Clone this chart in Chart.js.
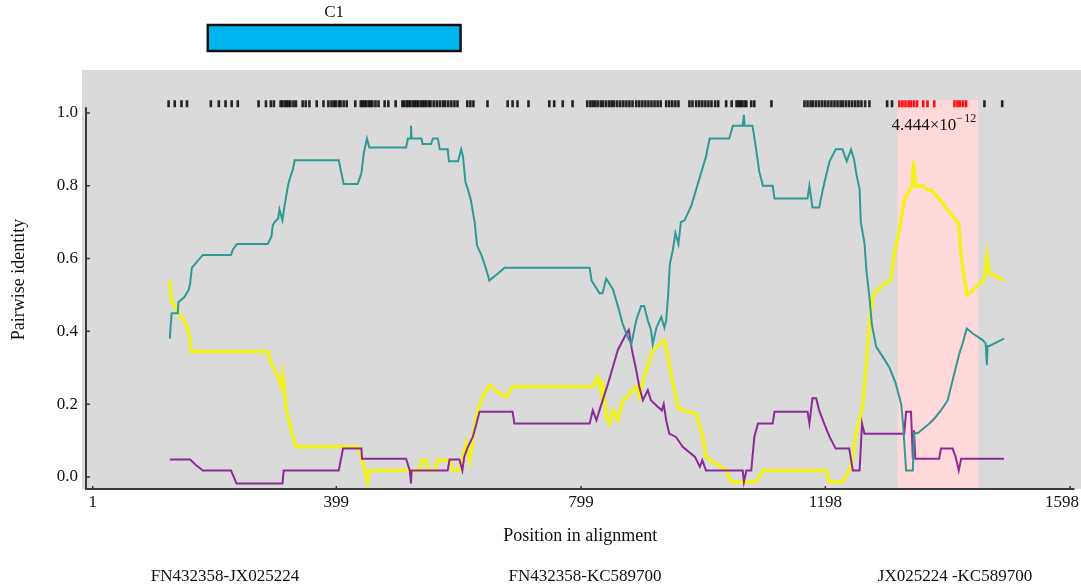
<!DOCTYPE html>
<html><head><meta charset="utf-8">
<script src="https://cdn.jsdelivr.net/npm/chart.js@4.4.1/dist/chart.umd.min.js"></script>
<style>html,body{margin:0;padding:0;background:#fff}</style>
</head><body>
<canvas id="c" width="1081" height="588"></canvas>
<script>
// ---------- data ----------
const xTickValues = [1, 399, 799, 1198, 1598];
const yTickValues = [0, 0.2, 0.4, 0.6, 0.8, 1.0];
const seriesNames = ["FN432358-JX025224", "FN432358-KC589700", "JX025224 -KC589700"];
const xAxisTitle = "Position in alignment";
const yAxisTitle = "Pairwise identity";
const c1Label = "C1";
const c1Region = [189, 602];
const recombRegion = [1316, 1448];
const pValueBase = "4.444×10";
const pValueExp = "−\u200A12";

const tealPts = [[127,0.38],[128,0.41],[130,0.45],[140,0.45],[141,0.48],[151,0.495],[158,0.515],[160,0.53],[163,0.575],[168,0.585],[181,0.61],[227,0.61],[230,0.625],[237,0.64],[287,0.64],[293,0.66],[295,0.69],[298,0.70],[304,0.71],[306,0.735],[311,0.705],[313,0.73],[317,0.77],[320,0.80],[323,0.82],[328,0.845],[331,0.87],[403,0.87],[411,0.805],[434,0.805],[440,0.835],[444,0.89],[449,0.93],[453,0.905],[513,0.905],[516,0.93],[520,0.93],[521,0.965],[522,0.93],[538,0.93],[540,0.915],[554,0.915],[557,0.93],[565,0.93],[568,0.90],[581,0.90],[583,0.867],[598,0.867],[603,0.90],[606,0.88],[610,0.81],[614,0.79],[619,0.76],[625,0.70],[629,0.635],[636,0.61],[644,0.57],[649,0.54],[660,0.555],[674,0.575],[813,0.575],[816,0.54],[829,0.505],[834,0.505],[840,0.545],[851,0.515],[859,0.47],[867,0.42],[875,0.385],[881,0.365],[889,0.43],[897,0.47],[902,0.47],[908,0.43],[913,0.405],[916,0.365],[922,0.41],[930,0.44],[935,0.41],[938,0.43],[941,0.495],[944,0.585],[949,0.625],[953,0.67],[958,0.64],[962,0.70],[968,0.705],[979,0.745],[987,0.79],[995,0.835],[1003,0.88],[1009,0.93],[1041,0.93],[1047,0.965],[1063,0.965],[1065,0.995],[1066,0.965],[1079,0.965],[1085,0.90],[1090,0.84],[1096,0.80],[1112,0.80],[1115,0.765],[1169,0.765],[1172,0.80],[1177,0.74],[1188,0.74],[1194,0.79],[1199,0.826],[1205,0.867],[1215,0.90],[1226,0.90],[1233,0.867],[1240,0.90],[1245,0.872],[1249,0.83],[1254,0.79],[1256,0.70],[1262,0.642],[1265,0.57],[1270,0.495],[1274,0.42],[1281,0.358],[1292,0.33],[1303,0.30],[1313,0.257],[1322,0.20],[1325,0.147],[1330,0.018],[1341,0.018],[1343,0.12],[1349,0.12],[1368,0.147],[1376,0.16],[1387,0.183],[1398,0.211],[1406,0.266],[1417,0.339],[1423,0.37],[1429,0.408],[1439,0.394],[1455,0.376],[1460,0.367],[1462,0.307],[1463,0.36],[1466,0.36],[1490,0.38]];

const yellowPts = [[127,0.54],[130,0.48],[136,0.47],[140,0.45],[146,0.44],[154,0.42],[159,0.385],[162,0.345],[287,0.345],[293,0.31],[301,0.285],[309,0.25],[311,0.28],[314,0.245],[317,0.185],[323,0.147],[328,0.11],[333,0.083],[434,0.083],[440,0.055],[450,-0.015],[453,0.018],[535,0.018],[538,0.046],[546,0.046],[549,0.018],[560,0.018],[565,0.046],[584,0.046],[589,0.018],[600,0.018],[606,0.055],[611,0.092],[617,0.046],[625,0.138],[630,0.183],[636,0.211],[644,0.239],[649,0.252],[666,0.229],[677,0.22],[687,0.248],[818,0.248],[826,0.275],[832,0.23],[834,0.265],[840,0.165],[845,0.147],[851,0.183],[859,0.156],[867,0.211],[875,0.22],[883,0.239],[889,0.248],[894,0.22],[902,0.275],[916,0.349],[935,0.376],[941,0.33],[949,0.257],[957,0.193],[965,0.183],[987,0.174],[998,0.11],[1003,0.055],[1036,0.018],[1044,-0.014],[1085,-0.014],[1096,0.018],[1199,0.018],[1205,-0.014],[1226,-0.014],[1237,0.018],[1243,0.055],[1248,0.119],[1259,0.193],[1265,0.312],[1270,0.422],[1276,0.495],[1278,0.505],[1292,0.528],[1305,0.541],[1310,0.606],[1319,0.679],[1327,0.761],[1333,0.78],[1340,0.80],[1342,0.867],[1346,0.798],[1357,0.80],[1365,0.789],[1371,0.789],[1390,0.752],[1406,0.716],[1416,0.697],[1420,0.606],[1428,0.514],[1430,0.50],[1450,0.53],[1458,0.545],[1462,0.606],[1466,0.56],[1490,0.54]];

const purplePts = [[127,0.048],[160,0.048],[170,0.032],[181,0.018],[227,0.018],[236,-0.018],[311,-0.018],[313,0.018],[403,0.018],[410,0.078],[440,0.078],[441,0.05],[513,0.05],[519,0.018],[521,-0.018],[522,0.018],[581,0.018],[584,0.048],[600,0.048],[605,0.018],[608,0.055],[614,0.083],[622,0.11],[628,0.147],[633,0.179],[687,0.179],[690,0.147],[813,0.147],[818,0.183],[824,0.156],[829,0.183],[836,0.22],[843,0.257],[851,0.303],[859,0.349],[873,0.394],[877,0.404],[882,0.349],[889,0.294],[894,0.248],[900,0.211],[908,0.239],[913,0.211],[924,0.193],[931,0.183],[934,0.20],[938,0.156],[943,0.119],[954,0.11],[965,0.083],[985,0.055],[993,0.028],[997,0.046],[1003,0.018],[1063,0.018],[1065,-0.014],[1069,0.018],[1077,0.018],[1082,0.11],[1088,0.147],[1112,0.147],[1115,0.179],[1169,0.179],[1172,0.147],[1177,0.216],[1183,0.216],[1188,0.183],[1196,0.147],[1205,0.11],[1215,0.078],[1237,0.078],[1243,0.018],[1254,0.018],[1258,0.147],[1262,0.119],[1327,0.119],[1330,0.179],[1338,0.179],[1341,0.05],[1343,0.128],[1345,0.05],[1384,0.05],[1387,0.078],[1406,0.078],[1411,0.055],[1416,0.018],[1420,0.05],[1490,0.05]];

const informativeSites = [125,135,146,155,194,207,218,228,238,272,284,292,297,308,311,315,318,321,324,329,333,344,349,355,367,378,386,391,395,398,403,406,411,416,430,439,442,445,448,452,455,458,463,468,478,484,496,507,510,514,517,520,524,527,530,533,537,540,543,546,550,553,558,563,568,573,577,582,587,592,597,613,618,623,646,679,687,695,713,747,755,769,785,809,814,818,822,826,831,835,840,845,849,853,858,863,868,873,878,883,889,894,899,904,909,914,919,924,929,938,943,948,953,958,976,981,987,992,997,1002,1007,1012,1018,1023,1036,1045,1053,1056,1059,1062,1066,1069,1077,1082,1110,1164,1169,1174,1178,1183,1188,1193,1198,1203,1208,1213,1218,1223,1227,1232,1237,1242,1247,1252,1257,1263,1270,1299,1307,1319,1324,1329,1334,1338,1343,1348,1358,1365,1376,1409,1414,1418,1423,1428,1458,1487];
const sitesRowValue = 1.025;

// ---------- styles ----------
const SERIF = "'Liberation Serif', 'DejaVu Serif', serif";
const colTeal = '#2f9996', colYellow = '#f2f21c', colPurple = '#8c2b98';
const toXY = pts => pts.map(([x, y]) => ({x, y}));
const inRecomb = v => v >= recombRegion[0] && v <= recombRegion[1];

const decor = {
  id: 'decor',
  beforeDraw(chart) {
    const {ctx, chartArea: a} = chart;
    ctx.save();
    ctx.fillStyle = '#ffffff';
    ctx.fillRect(0, 0, chart.width, chart.height);
    ctx.fillStyle = '#dadada';
    ctx.fillRect(a.left - 4, a.top, chart.width - (a.left - 4), a.bottom - a.top);
    ctx.restore();
  },
  beforeDatasetsDraw(chart) {
    const {ctx, chartArea: a, scales: {x, y}} = chart;
    ctx.save();
    ctx.fillStyle = '#ffd9d9';
    const x0 = x.getPixelForValue(recombRegion[0]), x1 = x.getPixelForValue(recombRegion[1]);
    const yt = y.getPixelForValue(1.035);
    ctx.fillRect(x0, yt, x1 - x0, a.bottom - yt);
    ctx.restore();
  },
  afterDraw(chart) {
    const {ctx, chartArea: a, scales: {x, y}} = chart;
    ctx.save();
    // axis lines
    ctx.strokeStyle = '#3a3a3a';
    ctx.lineWidth = 2;
    ctx.beginPath();
    ctx.moveTo(a.left, y.getPixelForValue(1.016));
    ctx.lineTo(a.left, a.bottom);
    ctx.lineTo(a.right, a.bottom);
    ctx.stroke();
    ctx.lineWidth = 1.5;
    ctx.beginPath();
    xTickValues.forEach(v => { const px = x.getPixelForValue(v); ctx.moveTo(px, a.bottom); ctx.lineTo(px, a.bottom - 3); });
    yTickValues.forEach(v => { const py = y.getPixelForValue(v); ctx.moveTo(a.left, py); ctx.lineTo(a.left + 4, py); });
    ctx.stroke();

    // x tick labels (kept inside the canvas)
    ctx.fillStyle = '#111';
    ctx.font = '17px ' + SERIF;
    ctx.textAlign = 'center';
    ctx.textBaseline = 'middle';
    xTickValues.forEach(v => {
      const t = String(v);
      const hw = ctx.measureText(t).width / 2;
      let cx = x.getPixelForValue(v);
      cx = Math.min(cx, chart.width - 2 - hw);
      ctx.fillText(t, cx, a.bottom + 14);
    });

    // C1 box
    const bx0 = x.getPixelForValue(c1Region[0]), bx1 = x.getPixelForValue(c1Region[1]);
    ctx.fillStyle = '#00b6ee';
    ctx.fillRect(bx0, 25, bx1 - bx0, 26);
    ctx.strokeStyle = '#111';
    ctx.lineWidth = 2.5;
    ctx.strokeRect(bx0, 25, bx1 - bx0, 26);
    ctx.fillStyle = '#111';
    ctx.font = '17px ' + SERIF;
    ctx.textAlign = 'center';
    ctx.textBaseline = 'middle';
    ctx.fillText(c1Label, (bx0 + bx1) / 2, 13);

    // p-value
    const px0 = x.getPixelForValue(recombRegion[0]) - 6;
    ctx.textAlign = 'left';
    ctx.textBaseline = 'alphabetic';
    ctx.font = '17px ' + SERIF;
    ctx.fillText(pValueBase, px0, 130);
    const w = ctx.measureText(pValueBase).width;
    ctx.font = '12px ' + SERIF;
    ctx.fillText(pValueExp, px0 + w, 122);

    // legend labels
    ctx.font = '17px ' + SERIF;
    ctx.textAlign = 'center';
    ctx.textBaseline = 'middle';
    const centers = [225, 585, 955];
    seriesNames.forEach((n, i) => ctx.fillText(n, centers[i], 577));
    ctx.restore();
  }
};

const siteColor = c => inRecomb(c.raw.x) ? '#ff1010' : 'rgba(10,10,10,0.88)';

new Chart(document.getElementById('c'), {
  type: 'line',
  data: {
    datasets: [
      {label: seriesNames[0], data: toXY(tealPts), borderColor: colTeal, borderWidth: 2, pointRadius: 0, tension: 0, order: 1},
      {label: seriesNames[2], data: toXY(purplePts), borderColor: colPurple, borderWidth: 2, pointRadius: 0, tension: 0, order: 2},
      {label: seriesNames[1], data: toXY(yellowPts), borderColor: colYellow, borderWidth: 3.5, pointRadius: 0, tension: 0, order: 3},
      {label: 'sites', type: 'scatter', showLine: false,
       data: informativeSites.map(v => ({x: v, y: sitesRowValue})),
       pointStyle: 'line', pointRadius: 3.5, pointRotation: 90, pointBorderWidth: 2.6,
       pointBorderColor: siteColor, pointBackgroundColor: siteColor,
       order: 0}
    ]
  },
  options: {
    responsive: false,
    devicePixelRatio: 1,
    animation: false,
    layout: {padding: {top: 70, right: 6, bottom: 39, left: 0}},
    plugins: {legend: {display: false}, tooltip: {enabled: false}},
    scales: {
      x: {
        type: 'linear', min: -10, max: 1605,
        afterBuildTicks: s => { s.ticks = xTickValues.map(v => ({value: v})); },
        afterFit: s => { s.height = 60; s.paddingLeft = 0; s.paddingRight = 0; },
        grid: {display: false, drawTicks: false}, border: {display: false},
        ticks: {display: false},
        title: {display: true, text: xAxisTitle, color: '#111', font: {family: SERIF, size: 18}, padding: {top: 0, bottom: 2}}
      },
      y: {
        type: 'linear', min: -0.033, max: 1.118,
        afterBuildTicks: s => { s.ticks = yTickValues.map(v => ({value: v})); },
        afterFit: s => { s.width = 86; s.paddingTop = 0; s.paddingBottom = 0; },
        grid: {display: false, drawTicks: false}, border: {display: false},
        ticks: {color: '#111', font: {family: SERIF, size: 17}, padding: 8, callback: v => Number(v).toFixed(1)},
        title: {display: true, text: yAxisTitle, color: '#111', font: {family: SERIF, size: 18}, padding: {top: 8, bottom: 0}}
      }
    }
  },
  plugins: [decor]
});
</script>
</body></html>
